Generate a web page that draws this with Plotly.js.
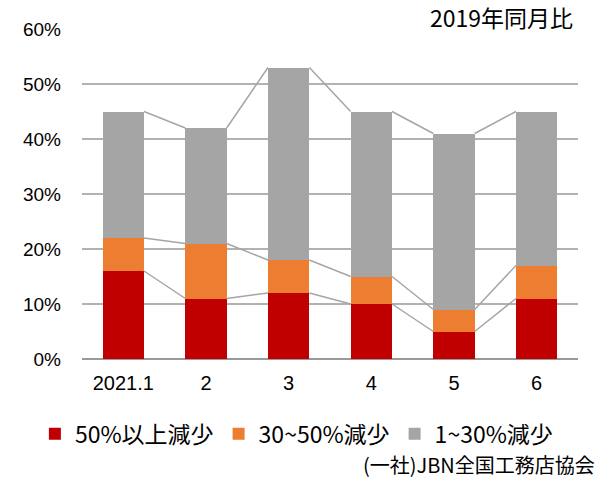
<!DOCTYPE html>
<html>
<head>
<meta charset="utf-8">
<script src="https://cdn.plot.ly/plotly-3.0.1.min.js"></script>
<style>html,body{margin:0;padding:0;background:#fff}#chart{width:608px;height:480px}</style>
</head>
<body>
<div id="chart"></div>
<script>
var categories = ["2021.1", "2", "3", "4", "5", "6"];
var over50 = [16, 11, 12, 10, 5, 11];
var from30to50 = [6, 10, 6, 5, 4, 6];
var from1to30 = [23, 21, 35, 30, 32, 28];
var seriesNames = ["50%以上減少", "30~50%減少", "1~30%減少"];
var seriesColors = ["#C00000", "#ED7D31", "#A5A5A5"];

var jp = '"Noto Sans CJK JP", "Liberation Sans", sans-serif';
var num = '"Liberation Sans", Arial, sans-serif';
var xs = categories.map(function (_, i) { return i; });
var series = [over50, from30to50, from1to30];
var barWidth = 0.5;

var traces = [];
series.forEach(function (vals, k) {
  traces.push({
    type: 'bar', x: xs, y: vals.map(function (v) { return v / 100; }),
    name: seriesNames[k], width: barWidth,
    marker: { color: seriesColors[k], line: { width: 0 } },
    hoverinfo: 'skip'
  });
});

// series lines between stacked segments (Excel style)
var cum = [0, 0, 0, 0, 0, 0];
var lx = [], ly = [];
series.forEach(function (vals) {
  cum = cum.map(function (c, i) { return c + vals[i]; });
  for (var i = 0; i < cum.length - 1; i++) {
    lx.push(i + barWidth / 2, i + 1 - barWidth / 2, null);
    ly.push(cum[i] / 100, cum[i + 1] / 100, null);
  }
});
traces.push({
  type: 'scatter', mode: 'lines', x: lx, y: ly, showlegend: false,
  line: { color: '#A5A5A5', width: 1.5 }, hoverinfo: 'skip', connectgaps: false
});

var layout = {
  width: 608, height: 480,
  margin: { l: 82, r: 30, t: 29, b: 121 },
  barmode: 'stack',
  paper_bgcolor: '#fff', plot_bgcolor: '#fff',
  font: { family: jp, color: '#000' },
  xaxis: {
    range: [-0.5, 5.5], tickvals: xs, ticktext: categories,
    showgrid: false, zeroline: false, showline: false, ticks: '',
    tickfont: { family: num, size: 20, color: '#000' },
    ticklabelstandoff: 10,
    fixedrange: true
  },
  yaxis: {
    range: [0, 0.6], dtick: 0.1, tickformat: '.0%',
    showgrid: true, gridcolor: '#B4B1B1', gridwidth: 1.3,
    zeroline: true, zerolinecolor: '#9A9A9A', zerolinewidth: 1.5,
    showline: false, ticks: '',
    tickfont: { family: num, size: 19, color: '#000' },
    ticklabelstandoff: 20,
    fixedrange: true
  },
  showlegend: true,
  legend: {
    orientation: 'h', x: -0.095, xanchor: 'left', y: -0.227, yanchor: 'middle',
    font: { family: jp, size: 23, color: '#000' }, itemwidth: 30,
    traceorder: 'normal', bgcolor: 'rgba(0,0,0,0)'
  },
  annotations: [
    { text: '2019年同月比', xref: 'paper', yref: 'paper', x: 0.994, y: 1.036, xanchor: 'right', yanchor: 'middle',
      showarrow: false, font: { family: jp, size: 23, color: '#000' } },
    { text: '(一社)JBN全国工務店協会', xref: 'paper', yref: 'paper', x: 1.038, y: -0.321, xanchor: 'right', yanchor: 'middle',
      showarrow: false, font: { family: jp, size: 20, color: '#000' } }
  ]
};

Plotly.newPlot('chart', traces, layout, { displayModeBar: false, staticPlot: true });
</script>
</body>
</html>
